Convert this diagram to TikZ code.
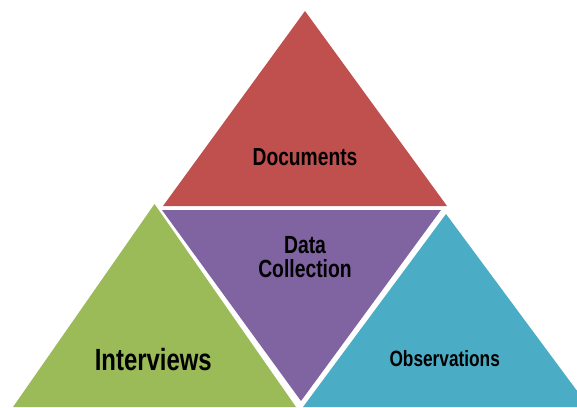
\documentclass[tikz,border=0pt]{standalone}
\usepackage{fontspec}
\newfontfamily\narrowsans[FakeStretch=0.78]{Liberation Sans}

\definecolor{docred}{RGB}{192,80,77}
\definecolor{datapurple}{RGB}{128,100,162}
\definecolor{intgreen}{RGB}{155,187,89}
\definecolor{obsblue}{RGB}{75,172,198}

\tikzset{every picture/.style={line width=0.75pt}}
\tikzset{label/.style={inner sep=0pt, anchor=base, align=center, font=\narrowsans\bfseries}}

\begin{document}
\begin{tikzpicture}[x=0.75pt,y=0.75pt,yscale=-1,xscale=1]
%set diagram left start at 0, and has height of 407
\clip (0,0) rectangle (577,407);

%Shape: Triangle [id:documents]
\fill [docred] (305,11) -- (447,206) -- (163,206) -- cycle ;
%Shape: Triangle [id:datacollection]
\fill [datapurple] (162,210) -- (441,210) -- (301,401) -- cycle ;
%Shape: Triangle [id:interviews]
\fill [intgreen] (154.5,204) -- (296,407) -- (13,407) -- cycle ;
%Shape: Triangle [id:observations]
\fill [obsblue] (446,214) -- (589,407) -- (303,407) -- cycle ;

% Text Node
\node [label, font=\narrowsans\bfseries\fontsize{18.5}{22}\selectfont] (docs) at (305,165) {Documents};
% Text Node (base is the last line)
\node [label, font=\narrowsans\bfseries\fontsize{18.6}{17.5}\selectfont] (data) at (305,277.3) {Data\\Collection};
% Text Node
\node [label, font=\narrowsans\bfseries\fontsize{23}{27}\selectfont] (intv) at (153.3,370) {Interviews};
% Text Node
\node [label, font=\narrowsans\bfseries\fontsize{16.6}{20}\selectfont] (obs) at (444.7,366.7) {Observations};

\end{tikzpicture}
\end{document}
